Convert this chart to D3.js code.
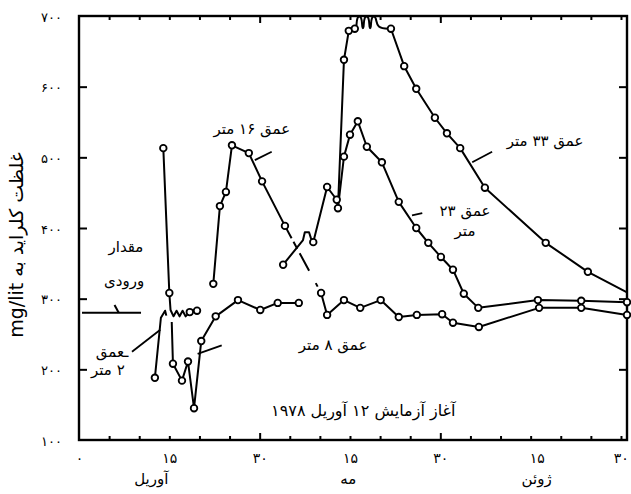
<!DOCTYPE html>
<html>
<head>
<meta charset="utf-8">
<script src="https://cdn.jsdelivr.net/npm/d3@7"></script>
<style>
  body { margin: 0; background: #fff; }
  svg { display: block; }
  text { font-family: "DejaVu Sans", sans-serif; fill: #000; }
</style>
</head>
<body>
<svg id="chart"></svg>
<script>
// [day since 31 March 1978, chloride mg/lit, measured point?]
const depth2mA = [[12.6,188,1],[13.6,273,0],[14.3,283,0],[14.5,276,0]];
const depth2mB = [[14.0,513,1],[15.0,308,1],[15.2,284,0],[15.7,275,0],[16.2,283,0],[16.7,275,0],
    [17.2,283,0],[17.7,275,0],[18.4,281,1],[19.6,283,1]];
const depth8m = [[15.4,267,0],[15.6,208,1],[17.1,184,1],[18.1,211,1],[19.1,145,1],[20.3,240,1],
    [22.7,275,1],[26.4,298,1],[30.1,284,1],[33.0,294,1],[36.5,294,1]];
const depth16mA = [[22.3,321,1],[23.4,431,1],[24.4,451,1],[25.4,517,1],[28.2,506,1],[30.4,466,1],[34.2,403,1]];
const depth16mB = [[40.2,308,1],[41.2,277,1],[44.0,298,1],[46.7,287,1],[50.1,298,1],[53.1,274,1],
    [56.1,277,1],[60.3,278,1],[62.1,266,1],[66.4,260,1],[76.4,287,1],[83.4,287,1],[91.0,277,1]];
const deepEarly = [[33.9,348,1],[37.2,383,0],[37.5,394,0],[38.2,394,0],[38.5,386,0],[38.9,380,1],
    [41.2,458,1],[42.8,440,1],[43.0,428,1]];
const depth33mRise = [[43.0,428,0],[44.0,638,1],[44.8,679,1],[45.8,682,1]];
// values above the top of the scale, drawn as loops
const depth33mOffscale = [[45.8,682],[46.1,682],[46.1,700],[47.0,700],[47.0,682],[47.3,682],
    [47.3,700],[48.2,700],[48.2,682],[48.5,682],[48.5,700],[49.4,700],[49.4,682],[51.8,682],[51.8,682]];
const depth33mFall = [[51.8,682,1],[54.0,629,1],[56.0,597,1],[59.1,556,1],[61.1,534,1],[63.3,513,1],
    [67.4,457,1],[77.5,379,1],[84.5,338,1],[91.0,309,0]];
const depth23m = [[43.0,428,0],[44.0,501,1],[45.0,532,1],[46.3,551,1],[47.8,515,1],[50.3,493,1],
    [53.1,437,1],[56.0,400,1],[58.0,379,1],[60.1,359,1],[62.1,341,1],[63.9,307,1],[66.3,287,1],
    [76.2,298,1],[83.4,297,1],[91.0,295,1]];
const inputLevel = [[0.5,280],[10.3,280]];

const xTickDays = [0, 15, 30, 45, 60, 76, 91];
const xTickLabels = ["۰", "۱۵", "۳۰", "۱۵", "۳۰", "۱۵", "۳۰"];
const monthNames = ["آوریل", "مه", "ژوئن"];
const monthDays = [12, 44.7, 76];
const yTicks = [100, 200, 300, 400, 500, 600, 700];

const W = 631, H = 494;
const fa = s => String(s).replace(/\d/g, c => "۰۱۲۳۴۵۶۷۸۹"[c]);

const svg = d3.select("#chart").attr("width", W).attr("height", H);

const x = d3.scaleLinear().domain([0, 91]).range([79, 627]);
const y = d3.scaleLinear().domain([100, 700]).range([440, 16]);

// inner ticks on all four sides
function ticks(axis, transform) {
    const g = svg.append("g").attr("transform", transform).call(axis);
    g.select(".domain").remove();
    g.selectAll("line").attr("stroke", "#000").attr("stroke-width", 2);
    return g;
}
const minorDays = d3.range(5, 91, 5);
const tickLen = d => (d === 30 || d === 60) ? -7 : -4;
[["bottom", 440], ["top", 16]].forEach(([side, ty]) => {
    const axis = side === "bottom" ? d3.axisBottom(x) : d3.axisTop(x);
    const g = ticks(axis.tickValues(minorDays).tickFormat(""), `translate(0,${ty})`);
    g.selectAll(".tick line").attr("y2", d => side === "bottom" ? tickLen(d) : -tickLen(d));
});
ticks(d3.axisLeft(y).tickValues(yTicks.slice(1, -1)).tickSize(-8).tickFormat(""), "translate(79,0)");
ticks(d3.axisRight(y).tickValues(yTicks.slice(1, -1)).tickSize(-8).tickFormat(""), "translate(627,0)");

// tick labels
const xl = svg.append("g").attr("transform", "translate(0,440)")
    .call(d3.axisBottom(x).tickValues(xTickDays).tickSize(0).tickPadding(13)
        .tickFormat((d, i) => xTickLabels[i]));
xl.select(".domain").remove();
xl.selectAll("text").style("font-size", "14px")
    .attr("dx", d => d === 91 ? "-0.45em" : 0);

const yl = svg.append("g").attr("transform", "translate(79,0)")
    .call(d3.axisLeft(y).tickValues(yTicks).tickSize(0).tickPadding(17).tickFormat(fa));
yl.select(".domain").remove();
yl.selectAll("text").style("font-size", "13px").attr("dy", "0.4em");

svg.append("g").selectAll("text").data(monthNames).join("text")
    .attr("x", (d, i) => x(monthDays[i])).attr("y", 484)
    .attr("text-anchor", "middle").style("font-size", "15px").text(d => d);

// frame
svg.append("rect").attr("x", x(0)).attr("y", y(700))
    .attr("width", x(91) - x(0)).attr("height", y(100) - y(700))
    .attr("fill", "none").attr("stroke", "#000").attr("stroke-width", 2.4);

// y axis title
svg.append("text").attr("transform", "translate(23,245) rotate(-90)")
    .attr("text-anchor", "middle").style("direction", "rtl").style("font-size", "19px")
    .text("غلظت کلراید به mg/lit");

// series
const line = d3.line().x(d => x(d[0])).y(d => y(d[1]));
const loop = d3.line().x(d => x(d[0])).y(d => y(d[1])).curve(d3.curveBasis);
const lines = svg.append("g").attr("fill", "none").attr("stroke", "#000")
    .attr("stroke-width", 2).attr("stroke-linejoin", "round");
const allSeries = [depth2mA, depth2mB, depth8m, depth16mA, depth16mB, deepEarly, depth33mRise, depth33mFall, depth23m];
allSeries.forEach(s => lines.append("path").attr("d", line(s)));
lines.append("path").attr("d", loop(depth33mOffscale));
// 16 m line passing behind the other curves
lines.append("path")
    .attr("d", line([depth16mA[depth16mA.length - 1], depth16mB[0]]))
    .attr("stroke-dasharray", "14,4,8,5,20");
lines.append("path").attr("d", line(inputLevel));
lines.append("path").attr("d", line([[5.9, 291], [6.6, 280]]));

const pts = allSeries.flat().filter(d => d[2]);
svg.append("g").selectAll("circle").data(pts).join("circle")
    .attr("cx", d => x(d[0])).attr("cy", d => y(d[1])).attr("r", 3.3)
    .attr("fill", "#fff").attr("stroke", "#000").attr("stroke-width", 1.8);

// label pointers
const pointers = [
    [[29.2, 496], [32.0, 508]],
    [[65.3, 493], [68.6, 508]],
    [[55.3, 418], [57.0, 421]],
    [[19.7, 222], [23.7, 234]],
    [[8.8, 225], [13.5, 256]]
];
pointers.forEach(p => lines.append("path").attr("d", line(p)).attr("stroke-width", 1.8));

const notes = [
    ["عمق ۱۶ متر", 28.7, 533, 15],
    ["عمق ۳۳ متر", 77.4, 516, 15],
    ["عمق ۲۳", 64.1, 417, 15],
    ["متر", 64.1, 389, 15],
    ["عمق ۸ متر", 42.2, 227, 15],
    ["ـعمق", 5.5, 217, 15],
    ["۲ متر", 4.8, 192, 15],
    ["مقدار", 7.8, 366, 15],
    ["ورودی", 7.5, 318, 15],
    ["آغاز آزمایش ۱۲ آوریل ۱۹۷۸", 47.2, 134, 16]
];
svg.append("g").selectAll("text").data(notes).join("text")
    .attr("x", d => x(d[1])).attr("y", d => y(d[2]))
    .attr("text-anchor", "middle").style("direction", "rtl")
    .style("font-size", d => d[3] + "px").text(d => d[0]);
</script>
</body>
</html>
